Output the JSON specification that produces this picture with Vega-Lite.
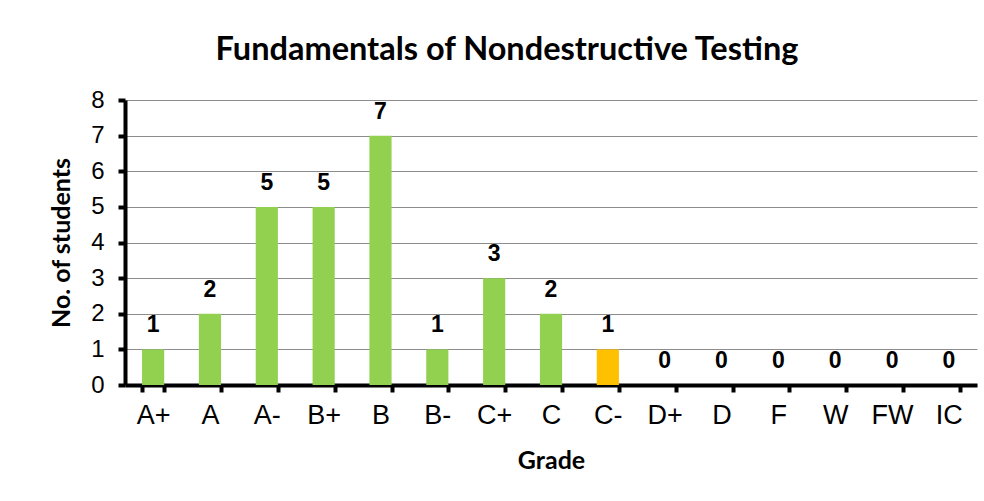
{
  "$schema": "https://vega.github.io/schema/vega-lite/v6.json",
  "autosize": "none",
  "padding": {"left": 125, "top": 100, "right": 7, "bottom": 116},
  "width": 852,
  "height": 285,
  "background": "white",
  "title": {
    "text": "Fundamentals of Nondestructive Testing",
    "font": "Lato",
    "fontSize": 32.5,
    "fontWeight": "bold",
    "color": "black",
    "anchor": "middle",
    "dx": -44,
    "offset": 22
  },
  "data": {
    "values": [
      {"grade": "A+", "count": 1, "hl": "n"},
      {"grade": "A", "count": 2, "hl": "n"},
      {"grade": "A-", "count": 5, "hl": "n"},
      {"grade": "B+", "count": 5, "hl": "n"},
      {"grade": "B", "count": 7, "hl": "n"},
      {"grade": "B-", "count": 1, "hl": "n"},
      {"grade": "C+", "count": 3, "hl": "n"},
      {"grade": "C", "count": 2, "hl": "n"},
      {"grade": "C-", "count": 1, "hl": "y"},
      {"grade": "D+", "count": 0, "hl": "n"},
      {"grade": "D", "count": 0, "hl": "n"},
      {"grade": "F", "count": 0, "hl": "n"},
      {"grade": "W", "count": 0, "hl": "n"},
      {"grade": "FW", "count": 0, "hl": "n"},
      {"grade": "IC", "count": 0, "hl": "n"}
    ]
  },
  "encoding": {
    "x": {
      "field": "grade",
      "type": "nominal",
      "sort": null,
      "title": "Grade",
      "scale": {"paddingInner": 0.61, "paddingOuter": 0.3}
    },
    "y": {
      "field": "count",
      "type": "quantitative",
      "title": "No. of students",
      "scale": {"domain": [0, 8], "nice": false},
      "axis": {"values": [0, 1, 2, 3, 4, 5, 6, 7, 8], "labelOverlap": false}
    }
  },
  "layer": [
    {
      "mark": {"type": "bar"},
      "encoding": {
        "color": {
          "field": "hl",
          "type": "nominal",
          "scale": {"domain": ["n", "y"], "range": ["#92D050", "#FFC000"]},
          "legend": null
        }
      }
    },
    {
      "mark": {
        "type": "text",
        "font": "Liberation Sans",
        "fontSize": 23,
        "fontWeight": "bold",
        "color": "black",
        "baseline": "bottom",
        "dy": -12
      },
      "encoding": {"text": {"field": "count", "type": "quantitative"}}
    }
  ],
  "config": {
    "view": {"stroke": null},
    "axis": {
      "titleFont": "Lato",
      "titleFontSize": 25,
      "titleFontWeight": "bold",
      "titleColor": "black",
      "labelFont": "Liberation Sans",
      "labelColor": "black",
      "domainColor": "black",
      "domainWidth": 4,
      "tickColor": "black",
      "tickWidth": 4,
      "tickSize": 7
    },
    "axisX": {
      "labelAngle": 0,
      "labelFontSize": 27,
      "labelPadding": 10,
      "tickBand": "extent",
      "grid": false,
      "titlePadding": 20
    },
    "axisY": {
      "labelFontSize": 24,
      "labelPadding": 14,
      "grid": true,
      "gridColor": "#8c8c8c",
      "gridWidth": 1,
      "titlePadding": 16
    }
  }
}
